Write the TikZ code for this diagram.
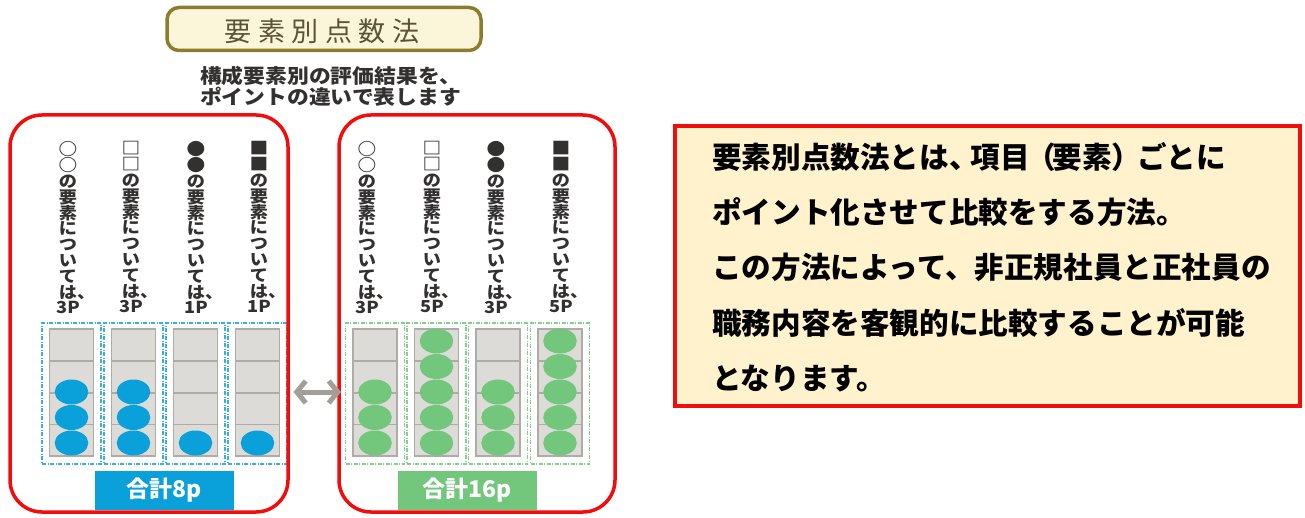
\documentclass[tikz,border=0pt]{standalone}
\usepackage{fontspec}
\setmainfont{Noto Sans CJK JP}
\newfontfamily\vfont{Noto Sans CJK JP}[FakeStretch=1.1]
\newfontfamily\sfont{Noto Sans CJK JP}[FakeStretch=1.1]
\usetikzlibrary{arrows.meta}
\definecolor{redc}{HTML}{F20C0C}
\definecolor{olivec}{HTML}{8C7D2C}
\definecolor{titlefill}{HTML}{FBF5DA}
\definecolor{titletext}{HTML}{5C5236}
\definecolor{creamc}{HTML}{FFF2CC}
\definecolor{bluec}{HTML}{0AA1DA}
\definecolor{bluedash}{HTML}{3AAEE0}
\definecolor{greenc}{HTML}{72C77C}
\definecolor{greendash}{HTML}{82D08C}
\definecolor{bardraw}{HTML}{AFABA5}
\definecolor{barfill}{HTML}{DDDBD7}
\definecolor{arrowc}{HTML}{A39E98}
\definecolor{txtc}{HTML}{333030}
\newcommand\symA[1]{{\fontsize{17}{15.8}\selectfont #1}}
\newcommand\vlab[2]{\symA{#1}\\\symA{#1}\\の\\要\\素\\に\\つ\\い\\て\\は\rlap{、}\\#2}
\begin{document}
\begin{tikzpicture}[x=1pt,y=-1pt,
  redbox/.style={draw=redc, line width=3.5pt, rounded corners=32pt, inner sep=0pt},
  vtext/.style={anchor=north, align=center, inner sep=0pt, text=txtc, font=\vfont\bfseries\fontsize{16.5}{15.8}\selectfont},
  dashbox/.style={draw=#1, line width=1.1pt, dash pattern=on 4pt off 1.5pt on 1pt off 1.5pt, minimum width=59pt, minimum height=141pt, inner sep=0pt},
  barbox/.style={draw=bardraw, fill=barfill, line width=1.3pt, minimum width=44pt, minimum height=127pt, inner sep=0pt},
  totbox/.style={fill=#1, text=white, minimum width=139pt, minimum height=39pt, inner sep=0pt, font=\bfseries\fontsize{23}{23}\selectfont}
]
\useasboundingbox (0,0) rectangle (1305,518);
% title
\node[draw=olivec, fill=titlefill, line width=3.5pt, rounded corners=12pt, minimum width=314pt, minimum height=43pt, inner sep=0pt] (title) at (324,29) {};
\node[text=titletext, font=\fontsize{27}{27}\selectfont, inner sep=0pt] (titletxt) at (322,31) {要\kern6.5pt 素\kern6.5pt 別\kern6.5pt 点\kern6.5pt 数\kern6.5pt 法};
\node[anchor=north west, align=left, inner sep=0pt, text=txtc, font=\sfont\bfseries\fontsize{19.8}{21.5}\selectfont] (sub) at (200,66) {構成要素別の評価結果を、\\ポイントの違いで表します};
% vertical labels
\node[vtext] (v1) at (68,141.5) {\vlab{○}{3P}};
\node[vtext] (v2) at (131,141.5) {\vlab{□}{3P}};
\node[vtext] (v3) at (196,141.5) {\vlab{●}{1P}};
\node[vtext] (v4) at (259,141.5) {\vlab{■}{1P}};
\node[vtext] (v5) at (367,141.5) {\vlab{○}{3P}};
\node[vtext] (v6) at (432,141.5) {\vlab{□}{5P}};
\node[vtext] (v7) at (496,141.5) {\vlab{●}{3P}};
\node[vtext] (v8) at (561,141.5) {\vlab{■}{5P}};
% bars left
\foreach \x/\n [count=\i] in {71.5/3,133.5/3,195.5/1,257.5/1} {
  \node[dashbox=bluedash] (ld\i) at (\x,393.5) {};
  \node[barbox] (lb\i) at (\x,392.5) {};
  \foreach \yy in {361,393,424.5} \draw[bardraw, line width=1.3pt] (\x-22,\yy) -- (\x+22,\yy);
  \foreach \k in {1,...,\n} \fill[bluec] (\x,{443-25.5*(\k-1)}) ellipse [x radius=16.8pt, y radius=12.5pt];
}
% bars right
\foreach \x/\n [count=\i] in {375/3,436.5/5,498/3,560/5} {
  \node[dashbox=greendash] (rd\i) at (\x,393.5) {};
  \node[barbox] (rb\i) at (\x,392.5) {};
  \foreach \yy in {361,393,424.5} \draw[bardraw, line width=1.3pt] (\x-22,\yy) -- (\x+22,\yy);
  \foreach \k in {1,...,\n} \fill[greenc] (\x,{443-25.5*(\k-1)}) ellipse [x radius=16.8pt, y radius=12.5pt];
}
% totals
\node[totbox=bluec] (tot1) at (164.5,490) {合計8p};
\node[totbox=greenc] (tot2) at (467.5,490) {合計16p};
% red boxes
\node[redbox, minimum width=278pt, minimum height=397pt] (lbox) at (149,313.5) {};
\node[redbox, minimum width=276pt, minimum height=397pt] (rbox) at (477,313.5) {};
% arrow
\coordinate (al) at (293.5,392);
\coordinate (ar) at (341,392);
\draw[arrowc, line width=5pt, {Straight Barb[length=9pt,width=22pt]}-{Straight Barb[length=9pt,width=22pt]}] (al) -- (ar);
% description
\node[draw=redc, fill=creamc, line width=3.5pt, minimum width=625pt, minimum height=280pt, inner sep=0pt] (desc) at (987.5,266) {};
\node[anchor=north west, align=left, inner sep=0pt, text=black, font=\bfseries\fontsize{29.6}{55.3}\selectfont] (desctxt) at (712,142) {要素別点数法とは、\kern-8pt 項目\kern-3pt（\kern-4pt 要素）\kern-4pt ごとに\\ポイント化させて比較をする方法。\\この方法によって、非正規社員と正社員の\\職務内容を客観的に比較することが可能\\となります。};
\end{tikzpicture}
\end{document}
